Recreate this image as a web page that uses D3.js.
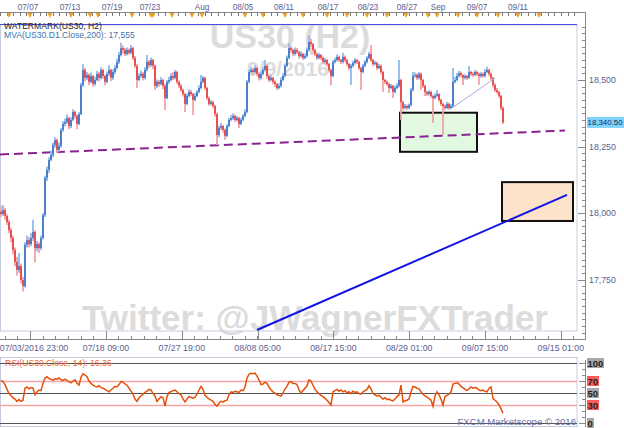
<!DOCTYPE html>
<html><head><meta charset="utf-8">
<script src="https://cdn.jsdelivr.net/npm/d3@7"></script>
<style>body{margin:0;background:#fff}svg{display:block}</style>
</head><body><svg id="c" width="624" height="428"></svg>
<script>
// ---------------- DATA ----------------
const opens=[18005,17996,18011,17989,17966,17936,17906,17861,17816,17786,
17801,17748,17725,17880,17898,17883,17906,17929,17868,17883,
17868,17906,17992,18132,18162,18199,18218,18256,18274,18237,
18252,18312,18335,18342,18357,18327,18350,18380,18365,18335,
18372,18481,18538,18508,18519,18493,18515,18485,18500,18523,
18508,18538,18515,18493,18523,18538,18508,18530,18545,18568,
18594,18620,18613,18598,18613,18602,18620,18583,18553,18500,
18515,18523,18508,18538,18568,18556,18575,18553,18478,18493,
18485,18500,18478,18432,18493,18500,18515,18508,18530,18493,
18478,18462,18447,18410,18440,18455,18447,18425,18440,18455,
18470,18493,18508,18470,18432,18410,18417,18402,18372,18293,
18320,18327,18312,18290,18327,18350,18357,18365,18350,18357,
18335,18350,18365,18380,18493,18530,18538,18530,18545,18523,
18508,18523,18538,18553,18515,18500,18508,18493,18485,18470,
18478,18500,18515,18553,18583,18620,18613,18598,18613,18605,
18590,18598,18583,18590,18613,18643,18635,18613,18598,18583,
18594,18583,18568,18575,18560,18538,18515,18568,18575,18587,
18575,18568,18587,18575,18560,18545,18553,18564,18575,18568,
18545,18530,18553,18568,18583,18598,18575,18560,18564,18545,
18553,18530,18500,18493,18485,18470,18478,18455,18470,18478,
18500,18417,18395,18402,18395,18406,18462,18515,18519,18508,
18523,18500,18478,18455,18447,18455,18440,18432,18440,18447,
18425,18410,18402,18395,18410,18395,18402,18493,18500,18515,
18526,18519,18508,18515,18508,18530,18523,18519,18530,18523,
18515,18523,18515,18530,18538,18523,18508,18481,18462,18455,
18440,18395];
const highs=[18025,18030,18020,17995,17975,17945,17915,17870,17835,17850,
17810,17760,17890,17915,17910,17925,17975,17935,17895,17890,
17915,18000,18140,18175,18210,18235,18265,18285,18280,18265,
18320,18345,18355,18370,18362,18360,18390,18385,18370,18380,
18490,18560,18545,18530,18525,18528,18520,18512,18535,18530,
18548,18542,18520,18532,18555,18542,18540,18555,18580,18605,
18640,18630,18620,18622,18618,18632,18625,18590,18560,18525,
18535,18530,18548,18594,18575,18585,18580,18558,18502,18500,
18510,18505,18485,18500,18512,18525,18530,18538,18535,18498,
18485,18468,18452,18448,18465,18462,18452,18450,18462,18480,
18519,18515,18512,18475,18438,18425,18422,18408,18378,18328,
18338,18332,18318,18335,18358,18368,18375,18370,18365,18362,
18358,18372,18390,18500,18540,18550,18545,18555,18550,18528,
18532,18548,18575,18558,18520,18518,18512,18498,18490,18488,
18510,18525,18560,18592,18638,18628,18618,18622,18620,18610,
18608,18602,18600,18622,18666,18655,18640,18618,18602,18602,
18598,18588,18584,18580,18565,18542,18575,18585,18596,18592,
18580,18602,18592,18580,18565,18560,18572,18582,18580,18572,
18550,18560,18575,18590,18606,18632,18580,18572,18570,18560,
18558,18535,18505,18498,18490,18485,18482,18478,18488,18575,
18505,18422,18410,18408,18412,18470,18530,18528,18525,18530,
18528,18505,18482,18460,18462,18460,18445,18450,18462,18450,
18430,18415,18408,18418,18415,18410,18545,18512,18525,18535,
18532,18522,18522,18520,18553,18535,18530,18538,18535,18528,
18530,18528,18540,18550,18542,18528,18512,18488,18470,18460,
18445,18400];
const lows=[17985,17990,17975,17955,17925,17890,17845,17800,17765,17775,
17735,17705,17720,17870,17870,17875,17895,17815,17855,17850,
17860,17900,17985,18120,18150,18195,18210,18245,18225,18230,
18245,18305,18325,18335,18315,18320,18345,18355,18315,18330,
18368,18475,18495,18500,18480,18488,18475,18478,18495,18495,
18502,18505,18480,18488,18515,18495,18500,18522,18540,18560,
18588,18600,18590,18592,18595,18598,18575,18545,18470,18495,
18508,18498,18502,18532,18545,18550,18540,18462,18470,18475,
18480,18465,18387,18428,18485,18495,18500,18502,18485,18470,
18455,18438,18380,18405,18435,18440,18368,18420,18435,18450,
18465,18488,18462,18425,18402,18405,18395,18362,18256,18285,
18312,18302,18274,18285,18322,18345,18350,18342,18345,18320,
18330,18345,18360,18375,18488,18525,18520,18525,18515,18498,
18502,18518,18532,18505,18492,18495,18485,18475,18462,18465,
18472,18495,18510,18548,18578,18602,18590,18592,18598,18580,
18585,18575,18578,18585,18608,18625,18605,18590,18575,18578,
18575,18560,18562,18552,18528,18480,18510,18562,18570,18568,
18560,18562,18568,18552,18538,18481,18548,18558,18560,18538,
18462,18525,18548,18562,18578,18568,18552,18555,18538,18540,
18522,18455,18485,18478,18451,18465,18432,18450,18465,18472,
18350,18385,18390,18388,18390,18400,18458,18508,18500,18502,
18462,18470,18440,18440,18442,18432,18338,18428,18435,18418,
18402,18293,18388,18390,18388,18390,18398,18488,18495,18510,
18510,18481,18502,18500,18505,18515,18512,18515,18515,18481,
18508,18508,18510,18525,18515,18500,18472,18455,18448,18432,
18385,18335];
const closes=[17996,18011,17989,17966,17936,17906,17861,17816,17786,17801,
17748,17725,17880,17898,17883,17906,17929,17868,17883,17868,
17906,17992,18132,18162,18199,18218,18256,18274,18237,18252,
18312,18335,18342,18357,18327,18350,18380,18365,18335,18372,
18481,18538,18508,18519,18493,18515,18485,18500,18523,18508,
18538,18515,18493,18523,18538,18508,18530,18545,18568,18594,
18620,18613,18598,18613,18602,18620,18583,18553,18500,18515,
18523,18508,18538,18568,18556,18575,18553,18478,18493,18485,
18500,18478,18432,18493,18500,18515,18508,18530,18493,18478,
18462,18447,18410,18440,18455,18447,18425,18440,18455,18470,
18493,18508,18470,18432,18410,18417,18402,18372,18293,18320,
18327,18312,18290,18327,18350,18357,18365,18350,18357,18335,
18350,18365,18380,18493,18530,18538,18530,18545,18523,18508,
18523,18538,18553,18515,18500,18508,18493,18485,18470,18478,
18500,18515,18553,18583,18620,18613,18598,18613,18605,18590,
18598,18583,18590,18613,18643,18635,18613,18598,18583,18594,
18583,18568,18575,18560,18538,18515,18568,18575,18587,18575,
18568,18587,18575,18560,18545,18553,18564,18575,18568,18545,
18530,18553,18568,18583,18598,18575,18560,18564,18545,18553,
18530,18500,18493,18485,18470,18478,18455,18470,18478,18500,
18417,18395,18402,18395,18406,18462,18515,18519,18508,18523,
18500,18478,18455,18447,18455,18440,18432,18440,18447,18425,
18410,18402,18395,18410,18395,18402,18493,18500,18515,18526,
18519,18508,18515,18508,18530,18523,18519,18530,18523,18515,
18523,18515,18530,18538,18523,18508,18481,18462,18455,18440,
18395,18340.5];
const rsiValues=[71,69,64,56,49,46,42,40,36,39,
36,38,58,60,57,59,58,47,52,55,
54,66,75,77,74,73,71,74,73,75,
72,71,73,71,69,67,70,72,66,63,
76,82,80,77,70,66,63,61,60,62,
59,58,56,54,52,55,58,61,60,64,
69,68,65,63,58,53,48,40,36,42,
45,48,51,53,56,55,49,45,36,40,
44,42,28,44,51,52,54,55,52,49,
47,40,35,40,44,43,41,43,48,55,
61,56,46,43,40,38,36,31,28,33,
36,35,37,38,47,52,51,53,52,51,
55,54,60,75,81,83,82,83,78,72,
64,65,68,66,60,55,52,50,47,46,
45,50,57,61,68,69,66,66,64,55,
50,54,58,62,72,70,63,56,52,49,
46,44,41,38,34,30,52,54,56,53,
55,52,54,50,52,49,53,51,52,49,
48,52,54,56,62,57,49,47,45,46,
43,40,42,39,40,38,37,40,44,47,
63,35,37,38,40,52,61,60,58,57,
52,48,45,43,41,38,28,45,52,47,
40,30,44,46,48,52,65,66,67,65,
61,59,56,54,57,60,58,59,58,55,
54,55,53,52,58,60,41,38,35,30,
24,16.36];
// top date axis (bar positions)
const topLabels=["07/07","07/13","07/19","07/23","Aug","08/05","08/11","08/17","08/23","08/27","Sep","09/07","09/11"];
const topLabelBars=[13.5,34.5,55.5,74.5,100.5,121,141.5,163.5,183.5,203,218.5,238,258.5];
const eventBars=[4,14.5,24.5,35,44.5,48.5,65.5,75,76,85.5,95.5,100.5,122,131,142,151,163,173,183,193,202.5,213.5,218,228.5,238,248.5,258.5,269];
// bottom time axis
const bottomLabels=["07/03/2016 23:00","07/18 09:00","07/27 19:00","08/08 05:00","08/17 15:00","08/29 01:00","09/07 15:00","09/15 01:00"];
const bottomLabelBars=[14.5,52.5,90.4,128.3,166.2,204.1,242,279.9];
const priceTicks=[17750,18000,18250,18500];
const lastPrice=18340.5;
const rsiLevels=[0,30,50,70,100];
const rsiLast=16.36;
const maLine=[{bar:-0.5,v:18220},{bar:282,v:18310}];
const blueTrend=[{bar:128,v:17560},{bar:283,v:18068}];
const thinTrend=[{bar:225.5,v:18395},{bar:247,v:18507}];
const greenBox={b0:199.5,b1:238,v0:18377,v1:18230};
const orangeBox={b0:250.5,b1:286,v0:18116,v1:17970};

// ---------------- LAYOUT ----------------
const svg=d3.select("#c");
const FONT="'Liberation Sans', Arial, sans-serif";
const axisCol="#5e5e90";
const plotL=0,plotR=577,plotT=25,plotB=331;
const axisX=585.5;
const x=d3.scaleLinear().domain([-0.5,287.5]).range([0,576]);
const y=d3.scaleLinear().domain([18000,18500]).range([213,80]);
const ry=d3.scaleLinear().domain([0,100]).range([423,363]);

svg.append("rect").attr("width",624).attr("height",428).attr("fill","#fff");
svg.append("clipPath").attr("id","pc").append("rect").attr("x",plotL).attr("y",plotT).attr("width",plotR-plotL).attr("height",plotB-plotT);

// watermark text
const wm=svg.append("g").attr("font-family",FONT).attr("font-weight","bold").attr("fill","#dcdcdc");
wm.append("text").attr("x",290).attr("y",48).attr("text-anchor","middle").attr("font-size",34).text("US30 (H2)");
wm.append("text").attr("x",288).attr("y",76).attr("text-anchor","middle").attr("font-size",21).text("9/9/2016");
wm.append("text").attr("x",315).attr("y",330).attr("text-anchor","middle").attr("font-size",35).text("Twitter: @JWagnerFXTrader");

// main frame
svg.append("rect").attr("x",plotL+0.5).attr("y",plotT).attr("width",plotR-plotL-0.5).attr("height",plotB-plotT)
  .attr("fill","none").attr("stroke","#c4cde0");
svg.append("line").attr("x1",0).attr("x2",plotR).attr("y1",24.5).attr("y2",24.5).attr("stroke","#4b4be0").attr("stroke-width",1.2);

const pg=svg.append("g").attr("clip-path","url(#pc)");
// boxes
pg.append("rect").attr("x",x(greenBox.b0)).attr("y",y(greenBox.v0)).attr("width",x(greenBox.b1)-x(greenBox.b0)).attr("height",y(greenBox.v1)-y(greenBox.v0))
  .attr("fill","#e3f8e1").attr("stroke","#111").attr("stroke-width",2);
pg.append("rect").attr("x",x(orangeBox.b0)).attr("y",y(orangeBox.v0)).attr("width",x(orangeBox.b1)-x(orangeBox.b0)).attr("height",y(orangeBox.v1)-y(orangeBox.v0))
  .attr("fill","#fde3c9").attr("stroke","#111").attr("stroke-width",2);
const ln=d3.line().x(d=>x(d.bar)).y(d=>y(d.v));
pg.append("path").attr("d",ln(maLine)).attr("fill","none").attr("stroke","#8a2290").attr("stroke-width",2).attr("stroke-dasharray","9,5");
pg.append("path").attr("d",ln(blueTrend)).attr("fill","none").attr("stroke","#1414e6").attr("stroke-width",2);

// candles
const bars=closes.map((c,i)=>({i,o:opens[i],h:highs[i],l:lows[i],c}));
pg.append("g").selectAll("line").data(bars).join("line")
  .attr("x1",d=>x(d.i)).attr("x2",d=>x(d.i)).attr("y1",d=>y(d.h)).attr("y2",d=>y(d.l))
  .attr("stroke",d=>d.c>=d.o?"#8ebbea":"#f3a2a2").attr("stroke-width",1.8);
pg.append("g").selectAll("rect").data(bars).join("rect")
  .attr("x",d=>x(d.i)-0.6).attr("width",1.2)
  .attr("y",d=>y(Math.max(d.o,d.c))).attr("height",d=>Math.max(1,Math.abs(y(d.o)-y(d.c))))
  .attr("fill",d=>d.c>=d.o?"#1b55b8":"#e01414");
pg.append("path").attr("d",ln(thinTrend)).attr("fill","none").attr("stroke","#a9a9d8").attr("stroke-width",1);

// header texts
svg.append("text").attr("x",4).attr("y",29).attr("font-family",FONT).attr("font-size",8.6).attr("fill","#222").text("WATERMARK(US30, H2)");
svg.append("text").attr("x",4).attr("y",38).attr("font-family",FONT).attr("font-size",8.6).attr("fill","#3f72ad").text("MVA(US30.D1.Close,200): 17,555");

// top axis
const ta=svg.append("g");
ta.append("line").attr("x1",0).attr("x2",axisX).attr("y1",12.5).attr("y2",12.5).attr("stroke","#888");
ta.selectAll(".tt").data(d3.range(-0.5,288,3.3)).join("line")
  .attr("x1",d=>Math.round(x(d))+0.5).attr("x2",d=>Math.round(x(d))+0.5).attr("y1",12.5).attr("y2",16).attr("stroke","#777");
ta.selectAll("path").data(eventBars).join("path")
  .attr("d",d=>`M${x(d)-2.5},13 L${x(d)+2.5},13 L${x(d)},18 Z`).attr("fill","#f0a020");
ta.selectAll("text").data(topLabels).join("text")
  .attr("x",(d,i)=>x(topLabelBars[i])).attr("y",10).attr("text-anchor","middle")
  .attr("font-family",FONT).attr("font-size",8.2).attr("fill",axisCol).text(d=>d);

// right price axis
const ra=svg.append("g");
ra.append("line").attr("x1",axisX).attr("x2",axisX).attr("y1",12).attr("y2",340).attr("stroke","#888");
const minorP=d3.range(17550,18725,25);
ra.selectAll(".mt").data(minorP).join("line")
  .attr("x1",d=>d%250===0?578:582).attr("x2",axisX).attr("y1",d=>Math.round(y(d))+0.5).attr("y2",d=>Math.round(y(d))+0.5).attr("stroke","#888");
ra.selectAll("text").data(priceTicks).join("text")
  .attr("x",589).attr("y",d=>y(d)+3).attr("font-family",FONT).attr("font-size",8.8).attr("fill",axisCol)
  .text(d=>d3.format(",")(d));
ra.append("rect").attr("x",587).attr("y",y(lastPrice)-5.5).attr("width",37).attr("height",11).attr("fill","#7dd3fb");
ra.append("text").attr("x",587.5).attr("y",y(lastPrice)+3).attr("font-family",FONT).attr("font-size",7.9).attr("fill","#1a2a5a")
  .text(d3.format(",.2f")(lastPrice));

// bottom time axis
const ba=svg.append("g");
ba.append("line").attr("x1",0).attr("x2",axisX).attr("y1",339.5).attr("y2",339.5).attr("stroke","#888");
const bmin=d3.range(-3,48).map(k=>14.5+k*37.9/6);
ba.selectAll(".bt").data(bmin.filter(d=>x(d)>=0&&x(d)<=577)).join("line")
  .attr("x1",d=>Math.round(x(d))+0.5).attr("x2",d=>Math.round(x(d))+0.5)
  .attr("y1",339.5).attr("y2",336).attr("stroke","#888");
ba.selectAll(".bM").data(bottomLabelBars).join("line")
  .attr("x1",d=>Math.round(x(d))+0.5).attr("x2",d=>Math.round(x(d))+0.5).attr("y1",331).attr("y2",339.5).attr("stroke","#888");
ba.selectAll("text").data(bottomLabels).join("text")
  .attr("x",(d,i)=>Math.max(34,x(bottomLabelBars[i]))).attr("y",351).attr("text-anchor","middle")
  .attr("font-family",FONT).attr("font-size",8.8).attr("fill",axisCol).text(d=>d);

// RSI panel
const rg=svg.append("g");
rg.append("rect").attr("x",0.5).attr("y",357.5).attr("width",576.5).attr("height",69).attr("fill","none").attr("stroke","#c4cde0");
rg.selectAll(".lv").data(rsiLevels).join("line")
  .attr("x1",0).attr("x2",577).attr("y1",d=>Math.round(ry(d))+0.5).attr("y2",d=>Math.round(ry(d))+0.5)
  .attr("stroke",d=>(d===30||d===70)?"#f5a5a5":"#555").attr("stroke-width",d=>(d===30||d===70)?1.4:1.2);
rg.append("text").attr("x",5).attr("y",366).attr("font-family",FONT).attr("font-size",8.6).attr("fill","#e8652e")
  .text("RSI(US30.Close, 14): "+rsiLast);
const rl=d3.line().x((d,i)=>x(i)).y(d=>ry(d));
rg.append("path").attr("d",rl(rsiValues)).attr("fill","none").attr("stroke","#e4500c").attr("stroke-width",1.5);
rg.append("line").attr("x1",axisX).attr("x2",axisX).attr("y1",360).attr("y2",427).attr("stroke","#888");
rg.selectAll(".rt").data(d3.range(0,101,10)).join("line")
  .attr("x1",d=>rsiLevels.includes(d)?579:582).attr("x2",axisX).attr("y1",d=>Math.round(ry(d))+0.5).attr("y2",d=>Math.round(ry(d))+0.5).attr("stroke","#888");
const rlab=rg.selectAll(".rlab").data(rsiLevels).join("g").attr("transform",d=>`translate(587,${ry(d)})`);
rlab.append("rect").attr("x",0).attr("y",-5).attr("width",d=>d===100?17:d===0?7:12).attr("height",10)
  .attr("fill",d=>(d===30||d===70)?"#ff5a5a":"#a8a8a8");
rlab.append("text").attr("x",0.5).attr("y",3.5).attr("font-family",FONT).attr("font-size",9.5).attr("font-weight","bold").attr("fill","#222").text(d=>d);
rg.append("text").attr("x",576).attr("y",425).attr("text-anchor","end").attr("font-family",FONT).attr("font-size",9.6).attr("fill","#6b6ba5")
  .text("FXCM Marketscope © 2016");
</script></body></html>
